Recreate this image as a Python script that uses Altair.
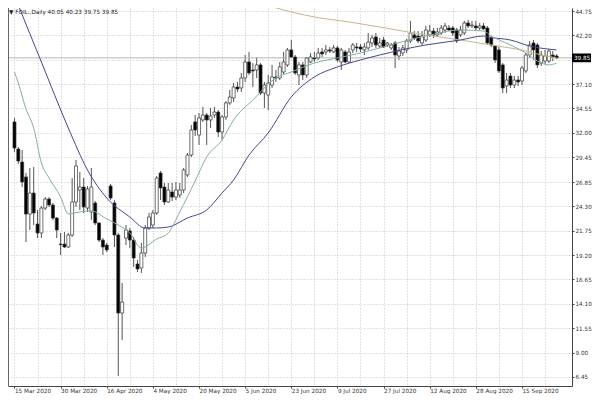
import json
import altair as alt
import pandas as pd

# ---------------- data ----------------
OPEN = [
    33.14, 30.31, 28.95, 27.38, 23.50, 25.70, 22.46, 21.52, 24.13, 25.07,
    24.45, 23.08, 20.36, 20.36, 20.05, 21.31, 24.76, 26.02, 26.33, 24.13,
    23.71, 24.66, 22.56, 20.78, 20.26, 26.44, 24.66, 21.31, 13.14, 20.99,
    21.73, 20.78, 18.27, 17.85, 19.42, 22.04, 22.35, 23.61, 27.80, 26.33,
    24.76, 25.81, 25.28, 25.49, 26.02, 27.59, 29.68, 33.14, 31.78, 33.35,
    33.87, 33.35, 33.87, 34.18, 32.09, 33.66, 35.13, 35.65, 36.80, 36.70,
    37.74, 39.42, 38.58, 38.58, 39.11, 36.17, 35.96, 37.01, 37.85, 37.74,
    38.37, 39.11, 40.68, 39.94, 38.06, 39.11, 38.06, 39.42, 39.84, 39.84,
    40.47, 40.47, 40.68, 40.47, 40.89, 39.42, 40.47, 39.42, 40.68, 40.99,
    40.99, 40.68, 40.89, 41.41, 42.04, 41.09, 41.72, 41.20, 40.89, 41.41,
    40.05, 40.36, 40.68, 41.62, 42.25, 42.14, 41.41, 41.72, 42.25, 42.66,
    42.25, 42.46, 42.77, 42.98, 42.98, 42.77, 42.25, 42.46, 43.50, 43.19,
    43.19, 42.98, 43.19, 42.98, 41.93, 41.09, 40.68, 39.11, 36.91, 37.95,
    37.01, 37.53, 37.43, 38.48, 40.15, 41.41, 41.20, 39.31, 39.52, 39.52,
    40.15, 40.05]
HIGH = [
    33.56, 30.52, 30.21, 27.80, 28.32, 28.43, 23.92, 24.34, 25.28, 25.28,
    24.66, 23.19, 21.52, 21.62, 21.52, 27.27, 29.16, 27.90, 27.27, 26.44,
    28.32, 24.87, 22.67, 20.99, 20.47, 26.65, 24.97, 21.52, 16.28, 22.35,
    22.04, 21.10, 18.69, 20.47, 22.35, 23.61, 23.92, 27.48, 28.01, 26.75,
    26.75, 26.75, 26.86, 26.75, 28.32, 29.89, 32.82, 33.87, 34.08, 34.71,
    34.08, 34.60, 34.71, 34.39, 33.87, 35.34, 36.49, 37.22, 37.33, 38.27,
    40.15, 40.47, 39.31, 39.94, 39.31, 37.33, 38.06, 39.11, 38.58, 39.42,
    40.47, 40.89, 41.72, 40.15, 39.42, 39.42, 39.94, 40.36, 40.47, 40.89,
    40.89, 41.20, 40.99, 41.20, 41.09, 40.89, 40.68, 40.89, 41.41, 41.41,
    41.30, 41.41, 42.46, 42.25, 42.46, 41.93, 42.04, 41.51, 41.41, 41.62,
    40.99, 41.20, 41.83, 43.71, 42.66, 42.66, 42.66, 43.19, 43.29, 42.98,
    42.98, 43.29, 43.50, 43.29, 43.19, 42.98, 43.19, 43.71, 43.82, 43.71,
    43.71, 43.50, 43.50, 43.19, 42.14, 41.20, 40.99, 39.31, 38.27, 38.27,
    37.95, 37.95, 39.00, 40.36, 41.62, 41.72, 41.41, 40.57, 40.68, 40.78,
    40.57, 40.23]
LOW = [
    29.99, 28.74, 26.33, 20.57, 21.83, 22.35, 20.99, 20.99, 23.92, 24.24,
    22.88, 20.99, 19.21, 19.95, 19.95, 21.10, 24.24, 23.92, 23.61, 23.71,
    22.88, 22.35, 20.57, 19.21, 19.53, 24.97, 20.05, 6.55, 10.31, 20.26,
    19.95, 17.96, 17.43, 17.33, 19.01, 21.83, 22.04, 23.40, 24.97, 24.45,
    24.66, 24.87, 24.97, 25.18, 25.70, 27.38, 29.47, 31.67, 30.73, 33.14,
    30.73, 32.51, 33.56, 31.57, 31.25, 33.35, 34.92, 35.23, 36.28, 36.28,
    37.33, 38.06, 36.80, 37.74, 35.96, 34.60, 34.39, 36.70, 37.33, 37.53,
    38.16, 38.90, 39.84, 38.06, 37.01, 37.53, 37.74, 39.31, 39.42, 39.63,
    39.94, 40.15, 40.36, 40.36, 39.42, 38.58, 39.31, 39.31, 40.36, 40.47,
    40.47, 40.15, 40.68, 40.99, 40.89, 40.89, 40.89, 40.99, 40.68, 38.79,
    39.63, 40.05, 40.36, 41.41, 41.72, 41.41, 41.20, 41.51, 42.04, 41.93,
    42.04, 42.25, 42.46, 42.66, 42.14, 41.41, 42.04, 42.25, 42.98, 42.98,
    42.77, 42.77, 42.77, 41.20, 40.99, 39.31, 38.27, 36.17, 36.17, 36.70,
    36.70, 36.91, 37.01, 38.27, 39.84, 39.63, 38.79, 39.00, 39.21, 39.31,
    39.52, 39.75]
CLOSE = [
    30.41, 29.05, 26.86, 23.50, 25.70, 23.61, 21.52, 24.13, 25.07, 24.45,
    23.08, 21.83, 20.30, 20.05, 21.31, 24.76, 28.53, 26.33, 24.24, 26.12,
    26.33, 22.56, 20.78, 20.05, 19.74, 25.18, 21.31, 13.14, 14.29, 21.83,
    20.78, 18.90, 17.75, 19.42, 22.04, 23.19, 23.61, 27.27, 26.23, 24.76,
    26.02, 25.28, 26.02, 26.02, 28.11, 29.68, 32.30, 32.30, 33.56, 33.87,
    33.35, 33.77, 34.18, 32.09, 33.66, 35.13, 35.75, 36.80, 36.59, 37.74,
    39.42, 38.27, 38.48, 39.11, 36.17, 37.01, 37.22, 37.85, 37.74, 38.90,
    39.42, 40.68, 39.94, 38.27, 39.11, 38.06, 39.84, 39.94, 39.73, 40.36,
    40.26, 40.68, 40.57, 40.89, 39.63, 40.68, 39.42, 40.47, 41.20, 40.89,
    40.78, 40.99, 41.51, 41.93, 41.20, 41.41, 40.99, 41.41, 41.20, 40.15,
    40.57, 40.89, 41.62, 42.46, 41.93, 41.62, 42.14, 42.77, 42.66, 42.25,
    42.56, 42.98, 43.19, 42.77, 42.46, 41.62, 42.77, 43.50, 43.19, 43.29,
    42.98, 43.19, 42.88, 41.41, 41.20, 39.63, 38.48, 36.70, 37.53, 37.01,
    37.53, 37.33, 38.79, 40.15, 41.20, 40.68, 39.11, 40.15, 40.05, 40.57,
    39.94, 39.85]

# moving-average lines, sampled at bar indices
TEAL_IDX = [0, 1, 3, 5, 7, 9, 12, 14, 17, 20, 24, 27, 30, 33, 37, 40, 43, 47, 50, 54,
            57, 62, 68, 72, 78, 84, 90, 95, 107, 116, 122, 124, 129, 133, 136, 139, 141]
TEAL_VAL = [38.37, 37.22, 34.50, 32.51, 28.85, 27.27, 25.29, 23.51, 23.72, 23.82,
            22.98, 22.36, 21.52, 19.95, 20.89, 21.52, 23.72, 26.96, 29.48, 31.25,
            33.35, 35.44, 37.74, 38.37, 39.31, 39.84, 40.36, 40.89, 42.14, 42.77,
            42.66, 42.14, 41.20, 40.36, 39.52, 39.11, 39.31]
PURPLE_IDX = [0, 1, 7, 14, 19, 24, 30, 34, 37, 40, 45, 50, 54, 57, 61, 66, 72, 78, 84, 90,
              95, 107, 116, 122, 123, 129, 134, 141]
PURPLE_VAL = [46.43, 45.39, 39.42, 32.51, 28.11, 25.18, 23.19, 22.04, 22.04, 22.14,
              23.09, 23.93, 25.71, 27.07, 29.68, 31.99, 35.76, 37.85, 38.90, 39.63,
              40.15, 41.20, 41.72, 42.14, 42.04, 41.72, 41.09, 40.68]
TAN_IDX = [58, 63, 70, 78, 87, 95, 107, 116, 124, 133, 137, 141]
TAN_VAL = [46.30, 45.70, 44.86, 44.13, 43.61, 43.08, 42.25, 41.72, 41.20, 40.57, 40.15, 39.84]

DATE_LABELS = ["15 Mar 2020", "30 Mar 2020", "16 Apr 2020", "4 May 2020", "20 May 2020",
               "5 Jun 2020", "23 Jun 2020", "9 Jul 2020", "27 Jul 2020", "12 Aug 2020",
               "28 Aug 2020", "15 Sep 2020"]
PRICE_TICKS = [6.45, 9.00, 11.55, 14.10, 16.65, 19.20, 21.75, 24.30, 26.85, 29.45,
               32.00, 34.55, 37.10, 39.65, 42.20, 44.75]
HIDDEN_TICK = 39.65          # covered by the current-price tag in the reference
LAST_PRICE = 39.85
HEADER = "\u25BC FOIL.,Daily  40.05 40.23 39.75 39.85"

n = len(OPEN)
assert n == len(HIGH) == len(LOW) == len(CLOSE) == 142

candles = pd.DataFrame({"i": list(range(n)), "open": OPEN, "high": HIGH,
                        "low": LOW, "close": CLOSE})
teal = pd.DataFrame({"i": TEAL_IDX, "v": TEAL_VAL})
purple = pd.DataFrame({"i": PURPLE_IDX, "v": PURPLE_VAL})
tan = pd.DataFrame({"i": TAN_IDX, "v": TAN_VAL})
last = pd.DataFrame({"p": [LAST_PRICE], "t": [f"{LAST_PRICE:.2f}"]})
one = pd.DataFrame({"a": [0]})

FONT = "DejaVu Sans"
FS = 5.7
W, H = 564, 378
xscale = alt.Scale(domain=[-0.383, 143.71], nice=False, zero=False)
yscale = alt.Scale(domain=[5.50, 45.07], nice=False, zero=False)

label_expr = ("datum.value % 12 === 0 ? " + json.dumps(DATE_LABELS) +
              "[datum.value / 12] : ''")
y_label_expr = (f"abs(datum.value - {HIDDEN_TICK}) < 0.001 ? '' : "
                "format(datum.value, '.2f')")
x_axis = alt.Axis(values=list(range(0, 139, 6)), tickCount=100, labelExpr=label_expr,
                  grid=True, tickSize=2,
                  tickOpacity={"condition": {"test": "datum.value % 12 === 0", "value": 1}, "value": 0},
                  labelAlign="left", labelBaseline="top", labelPadding=-1, title=None)
y_axis = alt.Axis(orient="right", values=PRICE_TICKS, tickCount=100,
                  labelExpr=y_label_expr, grid=True, tickSize=2, labelPadding=1, title=None)


def X(field):
    return alt.X(field, type="quantitative", scale=xscale, title=None)


def Y(field):
    return alt.Y(field, type="quantitative", scale=yscale, title=None)


wicks = alt.Chart(candles).mark_rule(color="#555555", strokeWidth=1).encode(
    x=alt.X("i:Q", scale=xscale, axis=x_axis),
    y=alt.Y("low:Q", scale=yscale, axis=y_axis),
    y2="high:Q",
)
bodies = alt.Chart(candles).mark_bar(size=3, stroke="#333333", strokeWidth=0.7).encode(
    x=X("i"), y=Y("open"), y2="close:Q",
    fill=alt.condition("datum.close >= datum.open", alt.value("white"), alt.value("black")),
)


def ma(df, color):
    return alt.Chart(df).mark_line(color=color, strokeWidth=1, clip=True,
                                   interpolate="monotone").encode(x=X("i"), y=Y("v"))


bid = alt.Chart(last).mark_rule(color="#b4b4b4", strokeWidth=1).encode(y=Y("p"))
left_border = alt.Chart(one).mark_rule(color="#666666", strokeWidth=1).encode(
    x=alt.value(0.5))
box = alt.Chart(last).mark_point(
    shape="M-1,-0.46L1,-0.46L1,0.46L-1,0.46Z", size=361, filled=True,
    color="black", opacity=1, strokeWidth=0).encode(x=alt.value(573.5), y=Y("p"))
box_text = alt.Chart(last).mark_text(
    align="left", baseline="middle", color="white", font=FONT, fontSize=FS).encode(
    x=alt.value(566), y=Y("p"), text="t:N")
header = alt.Chart(one).mark_text(
    align="left", baseline="middle", color="#222222", font=FONT, fontSize=FS,
    text=HEADER).encode(x=alt.value(1), y=alt.value(4))

chart = alt.layer(
    wicks, bid, bodies,
    ma(tan, "#c8b48c"), ma(purple, "#47478c"), ma(teal, "#7fb0a2"),
    left_border, box, box_text, header,
).properties(
    width=W, height=H,
    autosize=alt.AutoSizeParams(type="none"),
    padding={"left": 0, "top": 0, "right": 20, "bottom": 8},
    background="white",
).configure_view(stroke=None).configure_axis(
    labelOverlap=False, labelFlush=False, labelBound=False,
    labelFont=FONT, labelFontSize=FS, labelColor="#333333",
    gridColor="#c4c4c4", gridDash=[1, 2], gridWidth=1,
    domainColor="#444444", tickColor="#444444",
)

chart.save("out.html", embed_options={"renderer": "svg", "actions": False})
